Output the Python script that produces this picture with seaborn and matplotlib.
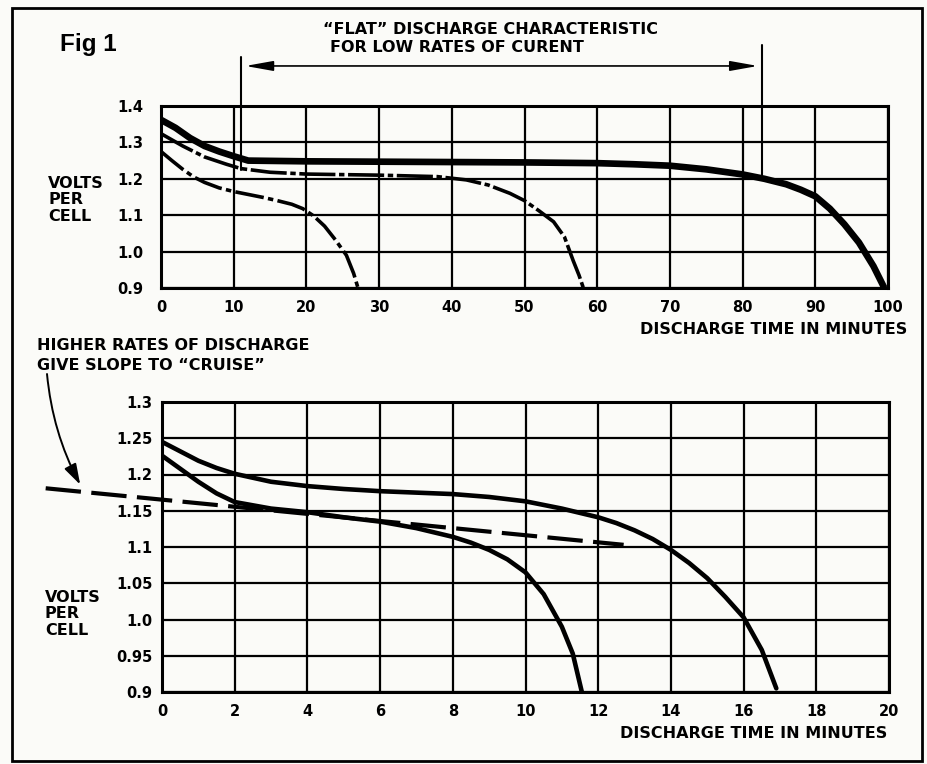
import matplotlib
matplotlib.use("Agg")
import matplotlib.pyplot as plt
import seaborn as sns
from matplotlib.patches import Rectangle

# --- veriler: ust grafik (0-100 dakika) ---
t1_x = [0, 2, 4, 6, 8, 10, 12, 20, 30, 40, 50, 60, 65, 70, 75, 80, 83, 86, 88, 90, 92, 94, 96, 98, 99.5]
t1_v = [1.362, 1.34, 1.312, 1.29, 1.275, 1.262, 1.25, 1.248, 1.247, 1.246, 1.245, 1.243, 1.24, 1.236,
        1.226, 1.212, 1.2, 1.185, 1.17, 1.152, 1.118, 1.075, 1.025, 0.96, 0.9]

t2_x = [0, 3, 6, 9, 11, 15, 20, 30, 38, 42, 45, 48, 50, 52, 54, 55.5, 56.7, 57.5, 58.1]
t2_v = [1.324, 1.29, 1.26, 1.24, 1.228, 1.218, 1.213, 1.21, 1.206, 1.197, 1.183, 1.16, 1.14, 1.112,
        1.082, 1.04, 0.975, 0.935, 0.9]

t3_x = [0, 1.5, 3, 4.5, 6, 8, 10, 12, 14, 16, 18, 19.5, 21, 22.5, 24, 25.5, 26.5, 27.1]
t3_v = [1.275, 1.25, 1.226, 1.205, 1.19, 1.175, 1.165, 1.157, 1.149, 1.14, 1.13, 1.118, 1.098,
        1.07, 1.032, 0.99, 0.94, 0.9]

top_xticks = [0, 10, 20, 30, 40, 50, 60, 70, 80, 90, 100]
top_xlabels = ["0", "10", "20", "30", "40", "50", "60", "70", "80", "90", "100"]
top_yticks = [0.9, 1.0, 1.1, 1.2, 1.3, 1.4]
top_ylabels = ["0.9", "1.0", "1.1", "1.2", "1.3", "1.4"]
flat_start, flat_end = 11, 82.6

# --- veriler: alt grafik (0-20 dakika) ---
b1_x = [0, 0.5, 1, 1.5, 2, 3, 4, 5, 6, 7, 8, 9, 10, 11, 12, 12.5, 13, 13.5, 14, 14.5, 15, 15.5, 16, 16.5, 16.9]
b1_v = [1.245, 1.232, 1.219, 1.209, 1.201, 1.19, 1.184, 1.18, 1.177, 1.175, 1.173, 1.169, 1.163,
        1.153, 1.141, 1.133, 1.123, 1.111, 1.096, 1.078, 1.057, 1.031, 1.003, 0.958, 0.905]

b2_x = [0, 0.5, 1, 1.5, 2, 3, 4, 5, 6, 7, 8, 8.5, 9, 9.5, 10, 10.5, 11, 11.3, 11.55]
b2_v = [1.226, 1.208, 1.19, 1.174, 1.162, 1.153, 1.148, 1.141, 1.135, 1.126, 1.114, 1.106, 1.096,
        1.083, 1.065, 1.035, 0.99, 0.953, 0.9]

cruise_x = [-3.2, 12.7]
cruise_v = [1.181, 1.103]

bot_xticks = [0, 2, 4, 6, 8, 10, 12, 14, 16, 18, 20]
bot_xlabels = ["0", "2", "4", "6", "8", "10", "12", "14", "16", "18", "20"]
bot_yticks = [0.9, 0.95, 1.0, 1.05, 1.1, 1.15, 1.2, 1.25, 1.3]
bot_ylabels = ["0.9", "0.95", "1.0", "1.05", "1.1", "1.15", "1.2", "1.25", "1.3"]

sns.set_theme(style="white")
plt.rcParams["font.family"] = ["DejaVu Sans"]
bg = "#fbfbf8"

W, H = 927, 764
fig = plt.figure(figsize=(W / 100, H / 100), dpi=100, facecolor=bg)


def px(x, y):
    return x / W, 1 - y / H


ax1 = fig.add_axes([161 / W, 1 - 288 / H, 727 / W, 182 / H], facecolor=bg)
ax2 = fig.add_axes([162 / W, 1 - 692 / H, 727 / W, 290 / H], facecolor=bg)

# ust grafik egrileri
sns.lineplot(x=t1_x, y=t1_v, ax=ax1, color="black", lw=4.8, solid_capstyle="butt")
sns.lineplot(x=t2_x, y=t2_v, ax=ax1, color="black", lw=2.6, linestyle=(0, (10, 1, 1.5, 1)))
sns.lineplot(x=t3_x, y=t3_v, ax=ax1, color="black", lw=2.6, linestyle=(0, (8, 1.2, 1.5, 1.2)))

# alt grafik egrileri
sns.lineplot(x=b1_x, y=b1_v, ax=ax2, color="black", lw=3.3)
sns.lineplot(x=b2_x, y=b2_v, ax=ax2, color="black", lw=3.3)
sns.lineplot(x=cruise_x, y=cruise_v, ax=ax2, color="black", lw=3.0, linestyle=(0, (8.5, 2.5)))
ax2.lines[-1].set_clip_on(False)

for ax, xt, xl, yt, yl, xlim, ylim in [
    (ax1, top_xticks, top_xlabels, top_yticks, top_ylabels, (0, 100), (0.9, 1.4)),
    (ax2, bot_xticks, bot_xlabels, bot_yticks, bot_ylabels, (0, 20), (0.9, 1.3)),
]:
    ax.set_xlim(*xlim)
    ax.set_ylim(*ylim)
    ax.set_xticks(xt)
    ax.set_xticklabels(xl, fontweight="bold")
    ax.set_yticks(yt)
    ax.set_yticklabels(yl, fontweight="bold")
    ax.grid(True, color="black", lw=1.6)
    ax.set_axisbelow(True)
    for s in ax.spines.values():
        s.set_color("black")
        s.set_linewidth(2.2)
    ax.tick_params(axis="both", labelsize=10.5, colors="black", width=2, length=0)

ax1.tick_params(axis="y", pad=13)
ax1.tick_params(axis="x", pad=9)
ax2.tick_params(axis="y", pad=7)
ax2.tick_params(axis="x", pad=5, length=4, direction="out")

# "flat" bolgesi isaretleri
ax1.plot([flat_start, flat_start], [1.224, 1.535], color="black", lw=1.5, clip_on=False)
ax1.plot([flat_end, flat_end], [1.21, 1.568], color="black", lw=1.5, clip_on=False)
ax1.annotate("", xy=(flat_start + 0.6, 1.51), xytext=(flat_end - 0.5, 1.51),
             arrowprops=dict(arrowstyle="<|-|>,head_length=1.4,head_width=0.25", lw=1.2,
                             color="black", shrinkA=0, shrinkB=0, mutation_scale=12),
             annotation_clip=False)

# ok: "cruise"
ax2.annotate("", xy=(-2.25, 1.186), xycoords="data", xytext=px(47, 374), textcoords="figure fraction",
             arrowprops=dict(arrowstyle="-|>,head_length=0.9,head_width=0.28", lw=1.4, color="black",
                             connectionstyle="arc3,rad=0.1", shrinkA=0, shrinkB=0, mutation_scale=14),
             annotation_clip=False)

txt = dict(color="black", fontsize=11.5, fontweight="bold")
fig.text(*px(60, 44), "Fig 1", fontsize=17.5, fontweight="bold", color="black",
         family=["Liberation Sans"], va="center")
fig.text(*px(323, 30), "\u201cFLAT\u201d DISCHARGE CHARACTERISTIC", va="center", **txt)
fig.text(*px(330, 47), "FOR LOW RATES OF CURENT", va="center", **txt)
fig.text(*px(48, 200), "VOLTS\nPER\nCELL", va="center", ha="left", linespacing=1.15, **txt)
fig.text(*px(907, 330), "DISCHARGE TIME IN MINUTES", va="center", ha="right", **txt)
fig.text(*px(37, 346), "HIGHER RATES OF DISCHARGE", va="center", **txt)
fig.text(*px(37, 366), "GIVE SLOPE TO \u201cCRUISE\u201d", va="center", **txt)
fig.text(*px(45, 614), "VOLTS\nPER\nCELL", va="center", ha="left", linespacing=1.15, **txt)
fig.text(*px(887, 733), "DISCHARGE TIME IN MINUTES", va="center", ha="right", **txt)

# cerceve
fig.add_artist(Rectangle(px(12, 761), 910 / W, 753 / H, transform=fig.transFigure,
                         fill=False, lw=2, edgecolor="black"))

fig.savefig("out.png", dpi=100, facecolor=bg)
